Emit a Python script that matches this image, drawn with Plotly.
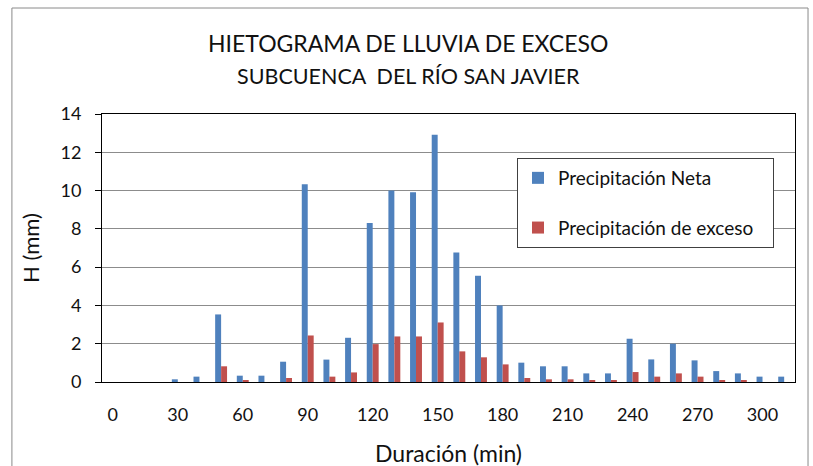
import plotly.graph_objects as go

duracion = [0, 10, 20, 30, 40, 50, 60, 70, 80, 90, 100, 110, 120, 130, 140, 150,
            160, 170, 180, 190, 200, 210, 220, 230, 240, 250, 260, 270, 280, 290, 300, 310]
prec_neta = [0.0, 0.0, 0.0, 0.14, 0.28, 3.53, 0.33, 0.33, 1.06, 10.33, 1.17, 2.31, 8.31, 10.0, 9.91, 12.92,
             6.77, 5.55, 4.0, 1.01, 0.82, 0.82, 0.45, 0.45, 2.26, 1.18, 2.0, 1.13, 0.57, 0.45, 0.28, 0.28]
prec_exceso = [-0.1, 0.0, 0.0, -0.1, 0.0, 0.82, 0.1, 0.0, 0.21, 2.43, 0.28, 0.5, 1.98, 2.38, 2.38, 3.11,
               1.6, 1.29, 0.92, 0.21, 0.14, 0.14, 0.09, 0.09, 0.52, 0.28, 0.45, 0.28, 0.1, 0.1, 0.0, 0.0]
x_ticks = [0, 30, 60, 90, 120, 150, 180, 210, 240, 270, 300]

BLUE = "#4F81BD"
RED = "#C0504D"
GRID = "#8C8C8C"
INK = "#111111"
FONT = "Lato"

cats = [str(d) for d in duracion]

fig = go.Figure()
fig.add_trace(go.Bar(x=cats, y=prec_neta, name="Precipitación Neta",
                     marker=dict(color=BLUE, line=dict(width=0)),
                     legendgroup="a", cliponaxis=False))
fig.add_trace(go.Bar(x=cats, y=prec_exceso, name="Precipitación de exceso\u00a0\u00a0\u00a0",
                     marker=dict(color=RED, line=dict(width=0)),
                     legendgroup="b", cliponaxis=False))

# outer chart frame
fig.add_shape(type="rect", xref="paper", yref="paper",
              x0=-0.130, x1=1.0188, y0=-0.40, y1=1.3955,
              line=dict(color="#8A8A8A", width=1), layer="below")

fig.add_annotation(text="HIETOGRAMA DE LLUVIA DE EXCESO", xref="paper", yref="paper",
                   x=0.4416, y=1.265, xanchor="center", yanchor="middle", showarrow=False,
                   font=dict(family=FONT, size=23, color=INK))
fig.add_annotation(text="SUBCUENCA  DEL RÍO SAN JAVIER", xref="paper", yref="paper",
                   x=0.4416, y=1.141, xanchor="center", yanchor="middle", showarrow=False,
                   font=dict(family=FONT, size=21.5, color=INK))

# axis titles
fig.add_annotation(text="Duración (min)", xref="paper", yref="paper",
                   x=0.4993, y=-0.265, xanchor="center", yanchor="middle", showarrow=False,
                   font=dict(family=FONT, size=23, color=INK))
fig.add_annotation(text="H (mm)", xref="paper", yref="paper", textangle=-90,
                   x=-0.1039, y=0.5, xanchor="center", yanchor="middle", showarrow=False,
                   font=dict(family=FONT, size=22, color=INK))

fig.update_layout(
    width=813, height=466,
    paper_bgcolor="white", plot_bgcolor="white",
    margin=dict(l=102, r=18, t=114, b=84),
    font=dict(family=FONT, color=INK),
    barmode="group", bargap=0.45, bargroupgap=0,
    xaxis=dict(
        type="category", tickmode="array", automargin=False,
        tickvals=[str(t) for t in x_ticks], ticktext=[str(t) for t in x_ticks],
        showline=True, linecolor="black", linewidth=1, mirror=True,
        showgrid=False, ticks="", ticklabelstandoff=16,
        tickfont=dict(family=FONT, size=18, color=INK),
    ),
    yaxis=dict(
        range=[0, 14], dtick=2, automargin=False,
        showline=True, linecolor="black", linewidth=1, mirror=True,
        showgrid=True, gridcolor=GRID, gridwidth=1, zeroline=False,
        ticks="outside", ticklen=6, tickcolor="black", ticklabelstandoff=10,
        tickfont=dict(family=FONT, size=18, color=INK),
    ),
    legend=dict(
        x=(517 - 102) / 693, y=(382 - 158) / 268, xanchor="left", yanchor="top",
        bgcolor="white", bordercolor="#404040", borderwidth=1,
        font=dict(family=FONT, size=19, color=INK),
        tracegroupgap=22, itemwidth=30,
    ),
)

# drop the browser's default 8px body margin so the figure fills the window
fig.write_html("out.html", config={"displayModeBar": False},
               post_script="document.body.style.margin='0';document.body.style.overflow='hidden';")
